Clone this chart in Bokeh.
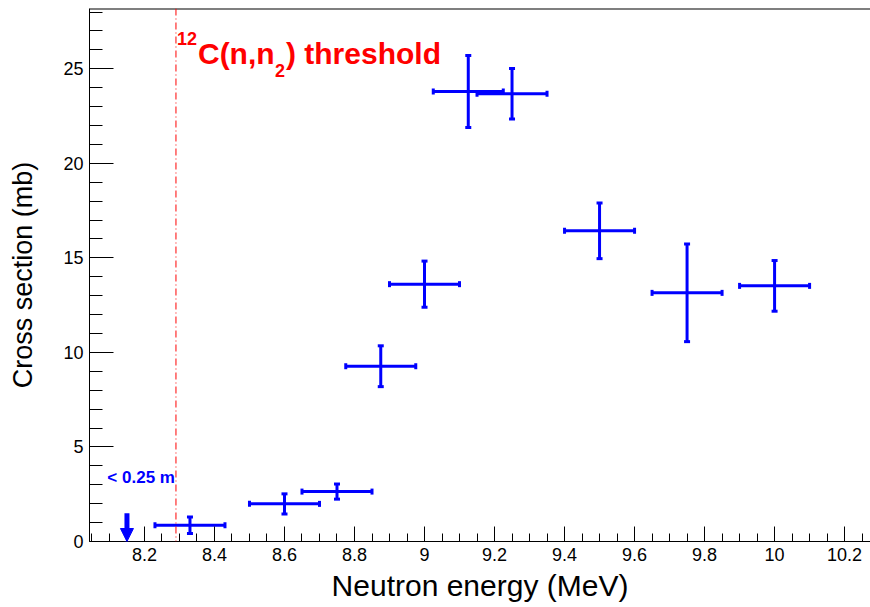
import numpy as np
from bokeh.plotting import figure
from bokeh.models import (ColumnDataSource, Whisker, TeeHead, Span, Label, Arrow,
                          NormalHead, FixedTicker, Range1d)
from bokeh.embed import file_html
from bokeh.resources import INLINE

# ---- data ----
energy = [8.33, 8.6, 8.75, 8.875, 9.0, 9.125, 9.25, 9.5, 9.75, 10.0]
energy_err = [0.1, 0.1, 0.1, 0.1, 0.1, 0.1, 0.1, 0.1, 0.1, 0.1]
xsec = [0.86, 1.99, 2.64, 9.27, 13.61, 23.80, 23.68, 16.43, 13.15, 13.52]
xsec_err = [0.44, 0.53, 0.40, 1.08, 1.22, 1.90, 1.34, 1.47, 2.58, 1.34]

limit_energy = [8.15]
limit_arrow_top = [1.5]
limit_text = "< 0.25 m"
threshold_energy = 8.29

x_major = [8.2, 8.4, 8.6, 8.8, 9.0, 9.2, 9.4, 9.6, 9.8, 10.0, 10.2]
x_labels = ["8.2", "8.4", "8.6", "8.8", "9", "9.2", "9.4", "9.6", "9.8", "10", "10.2"]
y_major = [0, 5, 10, 15, 20, 25]
y_labels = ["0", "5", "10", "15", "20", "25"]

FONT = "Liberation Sans"
BLUE = "#0000ff"
RED = "#ff0000"

src = ColumnDataSource(dict(
    x=energy, y=xsec,
    xl=[e - d for e, d in zip(energy, energy_err)],
    xu=[e + d for e, d in zip(energy, energy_err)],
    yl=[v - d for v, d in zip(xsec, xsec_err)],
    yu=[v + d for v, d in zip(xsec, xsec_err)],
))

p = figure(width=870, height=607, output_backend="svg", toolbar_location=None,
           x_range=Range1d(8.043, 10.274), y_range=Range1d(0, 28.19),
           min_border_left=89, min_border_right=0, min_border_top=8,
           min_border_bottom=66)
p.outline_line_color = None
p.xgrid.grid_line_color = None
p.ygrid.grid_line_color = None
p.background_fill_color = "white"
p.border_fill_color = "white"

# axes
x_minor = [float(v) for v in np.round(np.arange(8.05, 10.27, 0.05), 2)]
y_minor = [float(v) for v in range(0, 29)]
p.xaxis.ticker = FixedTicker(ticks=x_major, minor_ticks=x_minor)
p.yaxis.ticker = FixedTicker(ticks=y_major, minor_ticks=y_minor)
p.xaxis.major_label_overrides = {t: l for t, l in zip(x_major, x_labels)}
p.yaxis.major_label_overrides = {t: l for t, l in zip(y_major, y_labels)}

for ax in (p.xaxis, p.yaxis):
    ax.axis_line_color = "black"
    ax.axis_line_width = 1
    ax.major_tick_line_color = "black"
    ax.minor_tick_line_color = "black"
    ax.major_tick_out = 0
    ax.minor_tick_out = 0
    ax.major_label_text_font = FONT
    ax.major_label_text_font_size = "18px"
    ax.major_label_text_color = "black"
    ax.axis_label_text_font = FONT
    ax.axis_label_text_font_style = "normal"
    ax.axis_label_text_color = "black"

p.xaxis.major_tick_in = 15
p.xaxis.minor_tick_in = 8
p.yaxis.major_tick_in = 24
p.yaxis.minor_tick_in = 13
p.xaxis.major_label_standoff = 6
p.yaxis.major_label_standoff = 6
p.xaxis.axis_label = "Neutron energy (MeV)"
p.yaxis.axis_label = "Cross section (mb)"
p.xaxis.axis_label_text_font_size = "30px"
p.yaxis.axis_label_text_font_size = "27px"
p.xaxis.axis_label_standoff = 5
p.yaxis.axis_label_standoff = 22

# top frame line
p.add_layout(Span(location=28.19, dimension="width", line_color="black", line_width=2))

# threshold line
p.add_layout(Span(location=threshold_energy, dimension="height", line_color=RED,
                  line_width=1, line_dash="7 3 1 3"))

# error bars
p.add_layout(Whisker(source=src, base="x", lower="yl", upper="yu", dimension="height",
                     line_color=BLUE, line_width=3,
                     upper_head=TeeHead(size=6, line_color=BLUE, line_width=3),
                     lower_head=TeeHead(size=6, line_color=BLUE, line_width=3)))
p.add_layout(Whisker(source=src, base="y", lower="xl", upper="xu", dimension="width",
                     line_color=BLUE, line_width=3,
                     upper_head=TeeHead(size=6, line_color=BLUE, line_width=3),
                     lower_head=TeeHead(size=6, line_color=BLUE, line_width=3)))

# upper limit arrow
for xe, yt in zip(limit_energy, limit_arrow_top):
    p.add_layout(Arrow(x_start=xe, y_start=yt, x_end=xe, y_end=0,
                       line_color=BLUE, line_width=5,
                       end=NormalHead(size=13, fill_color=BLUE, line_color=BLUE, line_width=1)))
p.add_layout(Label(x=8.094, y=3.4, text=limit_text, text_color=BLUE,
                   text_font=FONT, text_font_style="bold", text_font_size="17px",
                   text_baseline="alphabetic"))

# threshold label: 12C(n,n2) threshold
base_y = 25.8
common = dict(text_color=RED, text_font=FONT, text_font_style="bold",
              text_baseline="alphabetic", x=threshold_energy)
p.add_layout(Label(y=base_y, x_offset=1, y_offset=15, text="12",
                   text_font_size="18px", **common))
p.add_layout(Label(y=base_y, x_offset=22, text="C(n,n", text_font_size="30px", **common))
p.add_layout(Label(y=base_y, x_offset=99, y_offset=-17, text="2",
                   text_font_size="18px", **common))
p.add_layout(Label(y=base_y, x_offset=110, text=") threshold", text_font_size="30px", **common))

open("out.html", "w").write(file_html(p, INLINE))
